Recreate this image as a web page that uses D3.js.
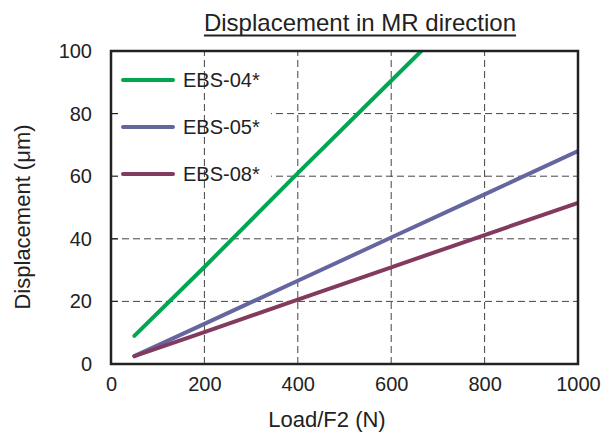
<!DOCTYPE html>
<html lang="en">
<head>
<meta charset="UTF-8">
<title>Displacement in MR direction</title>
<script src="https://d3js.org/d3.v7.min.js"></script>
<style>
  body { margin: 0; background: #fff; }
  text { font-family: "Liberation Sans", Arial, sans-serif; fill: #222; }
</style>
</head>
<body>
<script>
// data
const loads = [50, 200, 400, 600, 800, 1000];
const ebs04 = [9, 31, 61, 90.5, 120, 149.5];
const ebs05 = [2.5, 12.8, 26.6, 40.4, 54.2, 68];
const ebs08 = [2.5, 10.2, 20.6, 30.9, 41.2, 51.5];
const seriesNames = ["EBS-04*", "EBS-05*", "EBS-08*"];
const seriesColors = ["#00a651", "#6566a0", "#833a5f"];
const xTicks = [0, 200, 400, 600, 800, 1000];
const yTicks = [0, 20, 40, 60, 80, 100];

const width = 616, height = 434;
const margin = { top: 51, right: 38, bottom: 70, left: 111 };

const svg = d3.select("body").append("svg")
    .attr("width", width)
    .attr("height", height);

const x = d3.scaleLinear().domain([0, 1000]).range([margin.left, width - margin.right]);
const y = d3.scaleLinear().domain([0, 100]).range([height - margin.bottom, margin.top]);

svg.append("defs").append("clipPath").attr("id", "plot")
  .append("rect")
    .attr("x", x(0)).attr("y", y(100))
    .attr("width", x(1000) - x(0)).attr("height", y(0) - y(100));

// horizontal dashed grid
svg.append("g").attr("stroke", "#444").attr("stroke-width", 1).attr("stroke-dasharray", "7,4")
  .selectAll("line").data(yTicks.slice(1, -1)).enter().append("line")
    .attr("x1", x(0)).attr("x2", x(1000))
    .attr("y1", d => y(d)).attr("y2", d => y(d));

// legend background hides the horizontal grid behind it
svg.append("rect")
    .attr("x", x(0)).attr("y", y(100))
    .attr("width", 160).attr("height", 140)
    .attr("fill", "#fff");

// vertical dashed grid
svg.append("g").attr("stroke", "#444").attr("stroke-width", 1).attr("stroke-dasharray", "7,4")
  .selectAll("line").data(xTicks.slice(1, -1)).enter().append("line")
    .attr("x1", d => x(d)).attr("x2", d => x(d))
    .attr("y1", y(0)).attr("y2", y(100));

// axes: labels outside, small inward ticks
const xAxis = svg.append("g")
    .attr("transform", `translate(0,${y(0)})`)
    .call(d3.axisBottom(x).tickValues(xTicks).tickSize(0).tickPadding(13).tickFormat(d3.format("d")));
const yAxis = svg.append("g")
    .attr("transform", `translate(${x(0)},0)`)
    .call(d3.axisLeft(y).tickValues(yTicks).tickSize(0).tickPadding(19).tickFormat(d3.format("d")));
[xAxis, yAxis].forEach(a => {
  a.select(".domain").remove();
  a.selectAll("text").style("font-size", "20px").attr("fill", "#222");
});
svg.append("g").attr("stroke", "#222").attr("stroke-width", 1.2)
  .selectAll("line").data(yTicks.slice(1, -1)).enter().append("line")
    .attr("x1", x(0)).attr("x2", x(0) + 7)
    .attr("y1", d => y(d)).attr("y2", d => y(d));

// lines
const rows = [ebs04, ebs05, ebs08];
const line = d3.line().x((d, i) => x(loads[i])).y(d => y(d));
svg.append("g").attr("clip-path", "url(#plot)")
  .selectAll("path").data(rows).enter().append("path")
    .attr("fill", "none")
    .attr("stroke", (d, i) => seriesColors[i])
    .attr("stroke-width", 4)
    .attr("stroke-linecap", "round")
    .attr("d", line);

// frame
svg.append("rect")
    .attr("x", x(0)).attr("y", y(100))
    .attr("width", x(1000) - x(0)).attr("height", y(0) - y(100))
    .attr("fill", "none").attr("stroke", "#222").attr("stroke-width", 2.5);

// legend
const legend = svg.append("g");
const legY = [80, 127, 174];
seriesNames.forEach((name, i) => {
  legend.append("line")
      .attr("x1", 123).attr("x2", 173)
      .attr("y1", legY[i]).attr("y2", legY[i])
      .attr("stroke", seriesColors[i]).attr("stroke-width", 4)
      .attr("stroke-linecap", "round");
  legend.append("text")
      .attr("x", 183).attr("y", legY[i]).attr("dy", "0.36em")
      .style("font-size", "20px")
      .text(name);
});

// titles
const title = svg.append("text")
    .attr("x", 360).attr("y", 31)
    .attr("text-anchor", "middle")
    .style("font-size", "24px")
    .text("Displacement in MR direction");
const bb = title.node().getBBox();
svg.append("line")
    .attr("x1", bb.x).attr("x2", bb.x + bb.width)
    .attr("y1", 35.5).attr("y2", 35.5)
    .attr("stroke", "#222").attr("stroke-width", 2);

svg.append("text")
    .attr("x", 327).attr("y", 427)
    .attr("text-anchor", "middle")
    .style("font-size", "22px")
    .text("Load/F2 (N)");

svg.append("text")
    .attr("transform", `translate(30,217) rotate(-90)`)
    .attr("text-anchor", "middle")
    .style("font-size", "22px")
    .text("Displacement (μm)");
</script>
</body>
</html>
